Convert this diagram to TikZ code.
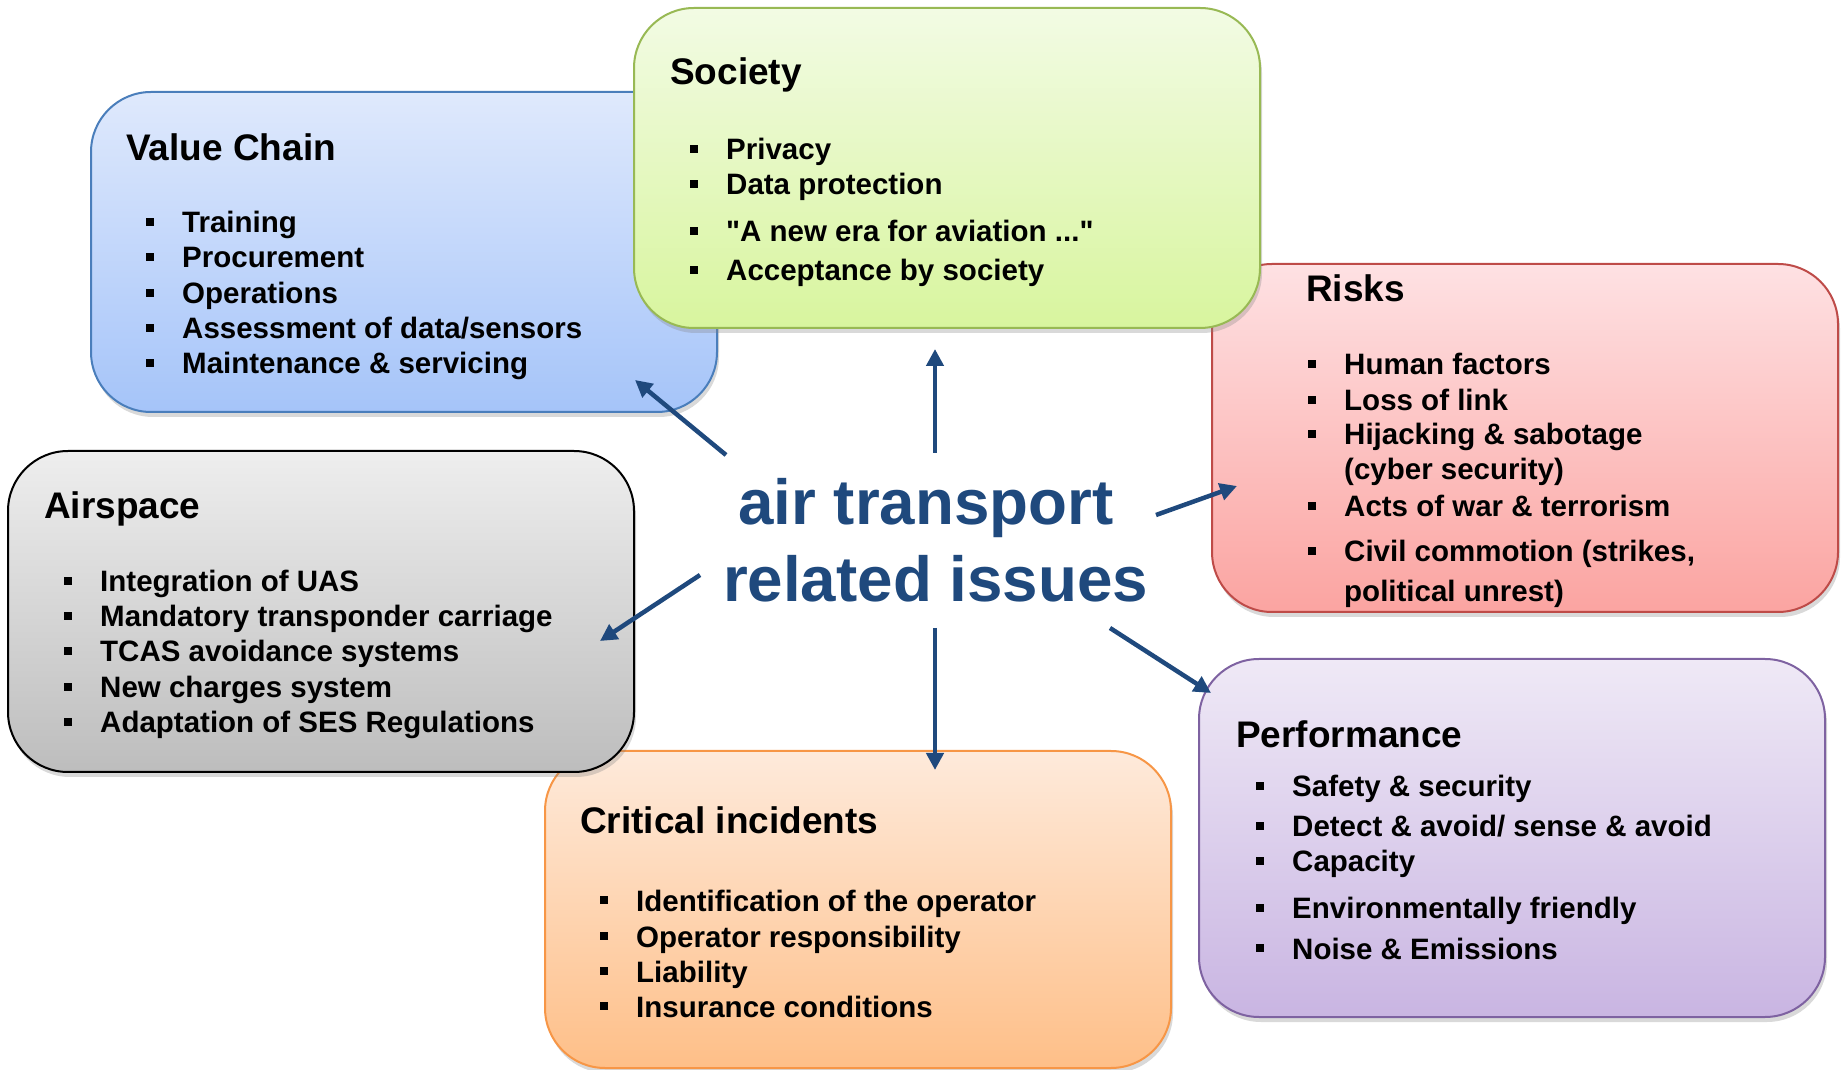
\documentclass[tikz,border=0pt]{standalone}
\usepackage{fontspec}
\setmainfont{Liberation Sans}
\usetikzlibrary{arrows.meta,shadows}
\definecolor{navy}{HTML}{1F497D}
\definecolor{vctop}{HTML}{DFE9FC}\definecolor{vcbot}{HTML}{A5C4F9}\definecolor{vcline}{HTML}{4A7EBB}
\definecolor{sotop}{HTML}{F2FBE4}\definecolor{sobot}{HTML}{D8F59E}\definecolor{soline}{HTML}{98B954}
\definecolor{ritop}{HTML}{FEE1E3}\definecolor{ribot}{HTML}{FBA4A1}\definecolor{riline}{HTML}{BE4B48}
\definecolor{aitop}{HTML}{EEEEEE}\definecolor{aibot}{HTML}{BDBDBD}\definecolor{ailine}{HTML}{000000}
\definecolor{crtop}{HTML}{FEEADB}\definecolor{crbot}{HTML}{FEBF88}\definecolor{crline}{HTML}{F79646}
\definecolor{petop}{HTML}{EFE9F6}\definecolor{pebot}{HTML}{C9B5E2}\definecolor{peline}{HTML}{7E62A1}
\newcommand{\bul}{\makebox[36pt][l]{\rule[7pt]{8pt}{8pt}}}
\newcommand{\nobul}{\hspace*{36pt}}
\tikzset{
  panel/.style={rectangle, rounded corners=60pt, minimum width=626pt, inner sep=0pt, line width=2pt,
    drop shadow={shadow xshift=2pt, shadow yshift=-5pt, opacity=0.3}},
  ttl/.style={anchor=base west, inner sep=0pt, font=\fontsize{37}{40}\selectfont\bfseries},
  itm/.style={anchor=base west, inner sep=0pt, font=\fontsize{29.5}{34}\selectfont\bfseries},
  ctr/.style={anchor=base, inner sep=0pt, text=navy, font=\fontsize{63.7}{76}\selectfont\bfseries},
  link/.style={navy, line width=4.5pt, -{Triangle[length=17pt,width=17pt]}},
}
\begin{document}
\begin{tikzpicture}[x=1pt,y=1pt]
\useasboundingbox (0,0) rectangle (1845,1069);
% Value Chain
\node[panel, draw=vcline, top color=vctop, bottom color=vcbot, minimum height=320pt] (vc) at (404,817) {};
\node[ttl] (vct) at (126,908) {Value Chain};
\foreach \yy/\tx [count=\i] in {836/{\bul Training},801/{\bul Procurement},765/{\bul Operations},730/{\bul Assessment of data/sensors},695/{\bul Maintenance \& servicing}}
  \node[itm] (vc\i) at (146,\yy) {\tx};
% Risks
\node[panel, draw=riline, top color=ritop, bottom color=ribot, minimum height=348pt] (ri) at (1525,631) {};
\node[ttl] (rit) at (1306,767) {Risks};
\foreach \yy/\tx [count=\i] in {694/{\bul Human factors},658/{\bul Loss of link},624/{\bul Hijacking \& sabotage},589/{\nobul (cyber security)},552/{\bul Acts of war \& terrorism},507/{\bul Civil commotion (strikes,},467/{\nobul political unrest)}}
  \node[itm] (ri\i) at (1308,\yy) {\tx};
% Critical incidents
\node[panel, draw=crline, top color=crtop, bottom color=crbot, minimum height=317pt] (cr) at (858,159.5) {};
\node[ttl] (crt) at (580,235) {Critical incidents};
\foreach \yy/\tx [count=\i] in {158/{\bul Identification of the operator},122/{\bul Operator responsibility},87/{\bul Liability},52/{\bul Insurance conditions}}
  \node[itm] (cr\i) at (600,\yy) {\tx};
% Performance
\node[panel, draw=peline, top color=petop, bottom color=pebot, minimum height=358pt] (pe) at (1512,231) {};
\node[ttl] (pet) at (1236,321) {Performance};
\foreach \yy/\tx [count=\i] in {272/{\bul Safety \& security},232/{\bul Detect \& avoid/ sense \& avoid},197/{\bul Capacity},150/{\bul Environmentally friendly},110/{\bul Noise \& Emissions}}
  \node[itm] (pe\i) at (1256,\yy) {\tx};
% Society
\node[panel, draw=soline, top color=sotop, bottom color=sobot, minimum height=320pt] (so) at (947,901) {};
\node[ttl] (sot) at (670,984) {Society};
\foreach \yy/\tx [count=\i] in {909/{\bul Privacy},874/{\bul Data protection},827/{\bul \textquotedbl A new era for aviation ...\textquotedbl},788/{\bul Acceptance by society}}
  \node[itm] (so\i) at (690,\yy) {\tx};
% Airspace
\node[panel, draw=ailine, top color=aitop, bottom color=aibot, minimum height=321pt] (ai) at (321,457.5) {};
\node[ttl] (ait) at (44,550) {Airspace};
\foreach \yy/\tx [count=\i] in {477/{\bul Integration of UAS},442/{\bul Mandatory transponder carriage},407/{\bul TCAS avoidance systems},371/{\bul New charges system},336/{\bul Adaptation of SES Regulations}}
  \node[itm] (ai\i) at (64,\yy) {\tx};
% Centre
\node[ctr] (ctr1) at (926,544) {air transport};
\node[ctr] (ctr2) at (935.5,467) {related issues};
% Arrows
\coordinate (s1) at (726,614); \coordinate (e1) at (635,689);
\coordinate (s2) at (935,616); \coordinate (e2) at (935,720);
\coordinate (s3) at (1156,554); \coordinate (e3) at (1237,583);
\coordinate (s4) at (700,494); \coordinate (e4) at (600,428);
\coordinate (s5) at (935,441); \coordinate (e5) at (935,299);
\coordinate (s6) at (1110,441); \coordinate (e6) at (1211,376);
\foreach \k in {1,...,6} \draw[link] (s\k) -- (e\k);
\end{tikzpicture}
\end{document}
